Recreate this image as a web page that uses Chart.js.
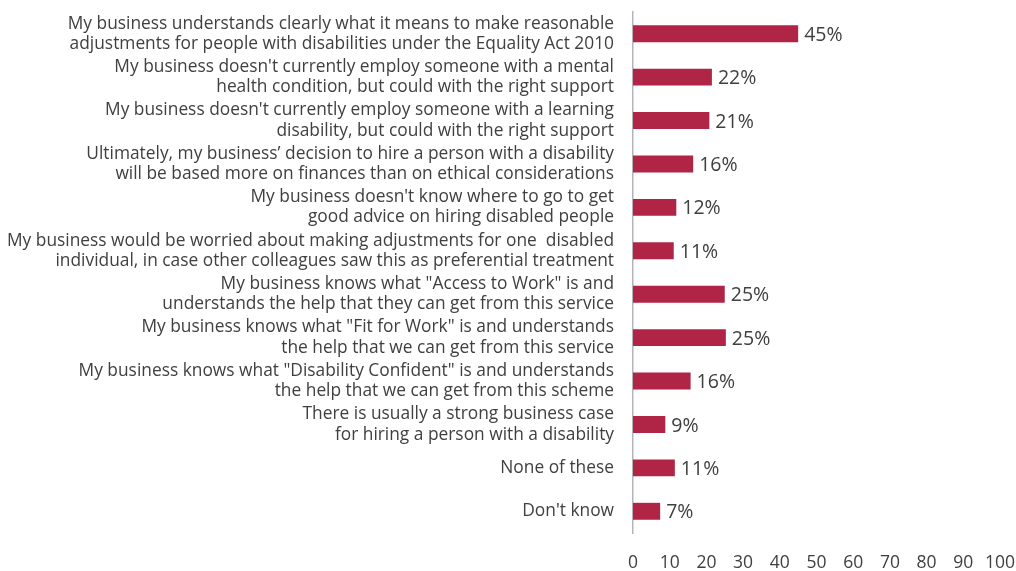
<!DOCTYPE html>
<html>
<head>
<meta charset="utf-8">
<script src="https://cdn.jsdelivr.net/npm/chart.js@4"></script>
<style>
html,body{margin:0;padding:0;background:#fff;}
#wrap{width:1016px;height:571px;}
</style>
</head>
<body>
<div id="wrap"><canvas id="c" width="1016" height="571"></canvas></div>
<script>
const categories = [
  ["My business understands clearly what it means to make reasonable", "adjustments for people with disabilities under the Equality Act 2010"],
  ["My business doesn't currently employ someone with a mental", "health condition, but could with the right support"],
  ["My business doesn't currently employ someone with a learning", "disability, but could with the right support"],
  ["Ultimately, my business\u2019 decision to hire a person with a disability", "will be based more on finances than on ethical considerations"],
  ["My business doesn't know where to go to get", "good advice on hiring disabled people"],
  ["My business would be worried about making adjustments for one  disabled", "individual, in case other colleagues saw this as preferential treatment"],
  ["My business knows what \"Access to Work\" is and", "understands the help that they can get from this service"],
  ["My business knows what \"Fit for Work\" is and understands", "the help that we can get from this service"],
  ["My business knows what \"Disability Confident\" is and understands", "the help that we can get from this scheme"],
  ["There is usually a strong business case", "for hiring a person with a disability"],
  ["None of these"],
  ["Don't know"]
];
const values = [45, 21.5, 20.8, 16.4, 11.8, 11.1, 25.0, 25.3, 15.7, 8.8, 11.4, 7.4];
const valueLabels = ["45%", "22%", "21%", "16%", "12%", "11%", "25%", "25%", "16%", "9%", "11%", "7%"];
const xTicks = [0, 10, 20, 30, 40, 50, 60, 70, 80, 90, 100];

const FONT = "'Open Sans', 'Noto Sans', sans-serif";
const TEXT = '#404040';

const valueLabelPlugin = {
  id: 'valueLabels',
  afterDatasetsDraw(chart) {
    const ctx = chart.ctx;
    const meta = chart.getDatasetMeta(0);
    ctx.save();
    ctx.font = '19.5px ' + FONT;
    ctx.fillStyle = TEXT;
    ctx.textAlign = 'left';
    ctx.textBaseline = 'middle';
    meta.data.forEach((bar, i) => {
      ctx.fillText(valueLabels[i], bar.x + 6, bar.y + 1.5);
    });
    ctx.restore();
  }
};

new Chart(document.getElementById('c'), {
  type: 'bar',
  data: {
    labels: categories,
    datasets: [{
      data: values,
      backgroundColor: '#B02546',
      borderWidth: 0,
      barPercentage: 0.39,
      categoryPercentage: 1
    }]
  },
  options: {
    indexAxis: 'y',
    responsive: false,
    animation: false,
    layout: { padding: { top: 12, right: 16, bottom: 0, left: 0 } },
    plugins: {
      legend: { display: false },
      tooltip: { enabled: false }
    },
    scales: {
      x: {
        min: 0,
        max: 100,
        afterBuildTicks(scale) { scale.ticks = xTicks.map(v => ({ value: v })); },
        afterFit(scale) { scale.height = 38; scale.paddingLeft = 0; scale.paddingRight = 0; },
        grid: { display: false, drawTicks: false },
        border: { display: false },
        ticks: {
          padding: 20,
          color: TEXT,
          font: { family: FONT, size: 17.5, lineHeight: 1.2 },
          maxRotation: 0,
          autoSkip: false
        }
      },
      y: {
        afterFit(scale) { scale.width = 633; scale.paddingTop = 0; scale.paddingBottom = 0; },
        grid: { display: false, drawTicks: false },
        border: { display: true, color: '#b5b5b5', width: 1.5 },
        ticks: {
          padding: 19,
          color: TEXT,
          autoSkip: false,
          font: { family: FONT, size: 17.35, lineHeight: 1.17 }
        }
      }
    }
  },
  plugins: [valueLabelPlugin]
});
</script>
</body>
</html>
